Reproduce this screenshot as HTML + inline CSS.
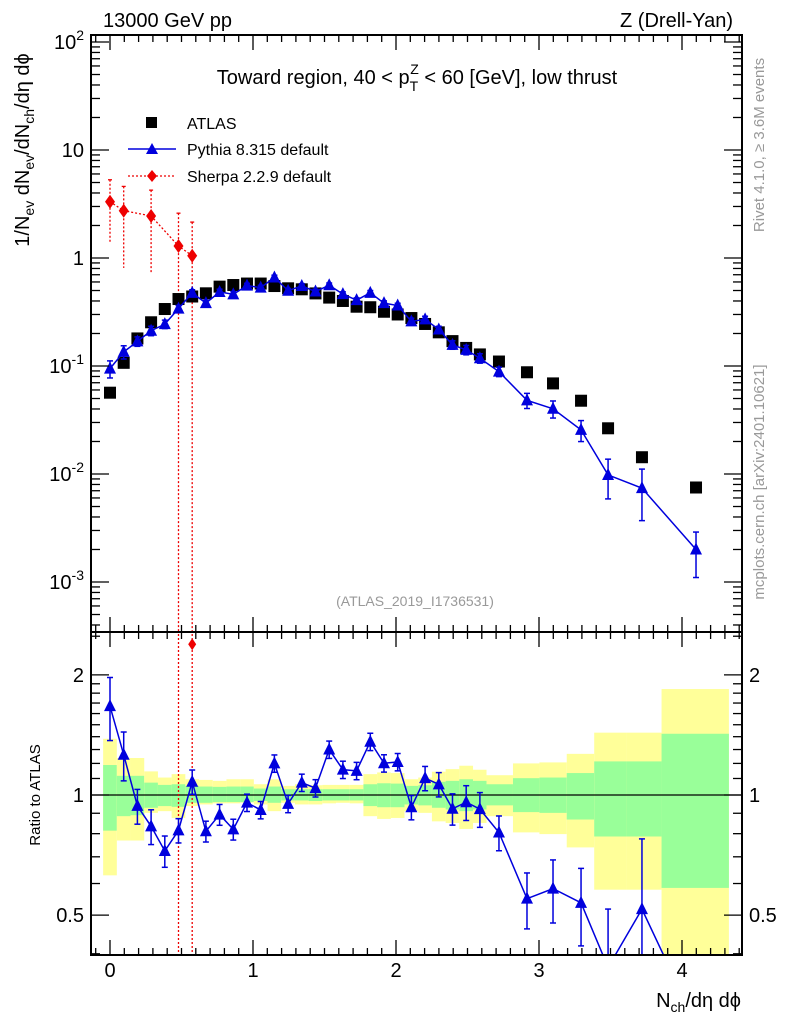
<!DOCTYPE html>
<html style="margin:0;width:786px;height:1024px;overflow:hidden"><head><meta charset="utf-8"><style>
html,body{margin:0;padding:0;background:#fff;width:786px;height:1024px;overflow:hidden;}
svg{display:block;font-family:"Liberation Sans",sans-serif;}
</style></head><body>
<svg id="c" width="786" height="1024" xmlns="http://www.w3.org/2000/svg">
<rect width="786" height="1024" fill="#fff"/>
<g id="bands"></g><g id="grid"></g><g id="marks"></g><g id="axes"></g>
<text x="103" y="27" font-size="20">13000 GeV pp</text>
<text x="733" y="27" font-size="20" text-anchor="end">Z (Drell-Yan)</text>
<text x="417" y="84" font-size="20" text-anchor="middle">Toward region, 40 &lt; p<tspan font-size="14" dy="7">T</tspan><tspan font-size="14" dx="-8" dy="-17">Z</tspan><tspan dy="10"> &lt; 60 [GeV], low thrust</tspan></text>
<text x="415" y="606" font-size="14" fill="#999" text-anchor="middle">(ATLAS_2019_I1736531)</text>
<text transform="translate(764,145) rotate(-90)" font-size="15" fill="#999" text-anchor="middle">Rivet 4.1.0, ≥ 3.6M events</text>
<text transform="translate(764,482) rotate(-90)" font-size="15" fill="#999" text-anchor="middle">mcplots.cern.ch [arXiv:2401.10621]</text>
<text transform="translate(29,150) rotate(-90)" font-size="20" text-anchor="middle">1/N<tspan font-size="14" dy="5">ev</tspan><tspan dy="-5"> dN</tspan><tspan font-size="14" dy="5">ev</tspan><tspan dy="-5">/dN</tspan><tspan font-size="14" dy="5">ch</tspan><tspan dy="-5">/dη dϕ</tspan></text>
<text transform="translate(40,795) rotate(-90)" font-size="15" text-anchor="middle">Ratio to ATLAS</text>
<text x="741" y="1007" font-size="20" text-anchor="end">N<tspan font-size="14" dy="5">ch</tspan><tspan dy="-5">/dη dϕ</tspan></text>
<g>
<rect x="146" y="117" width="11" height="11" fill="#000"/>
<text x="187" y="129" font-size="16">ATLAS</text>
<line x1="128" y1="149" x2="176" y2="149" stroke="#0000dd" stroke-width="1.5"/>
<polygon points="152,143 146,154 158,154" fill="#0000dd"/>
<text x="187" y="155" font-size="16">Pythia 8.315 default</text>
<line x1="128" y1="176" x2="176" y2="176" stroke="#ee0000" stroke-width="1.3" stroke-dasharray="2,2"/>
<polygon points="152,170 157,176 152,182 147,176" fill="#ee0000"/>
<text x="187" y="182" font-size="16">Sherpa 2.2.9 default</text>
</g>
</svg>
<script>
const xs=[0,0.0958,0.1916,0.2874,0.3832,0.479,0.5748,0.6706,0.7664,0.8622,0.958,1.0538,1.1496,1.2454,1.3412,1.437,1.5328,1.6286,1.7244,1.8202,1.916,2.0118,2.1076,2.2034,2.2992,2.395,2.4908,2.5866,2.72,2.916,3.098,3.294,3.483,3.72,4.098];
const atlas=[0.0566,0.107,0.180,0.254,0.337,0.417,0.44,0.471,0.543,0.562,0.58,0.58,0.55,0.524,0.513,0.47,0.43,0.40,0.354,0.35,0.318,0.30,0.278,0.245,0.205,0.170,0.147,0.128,0.110,0.0875,0.069,0.0477,0.0265,0.0143,0.0075];
const pythia=[0.0945,0.135,0.169,0.212,0.244,0.340,0.475,0.382,0.485,0.461,0.555,0.532,0.66,0.498,0.551,0.489,0.559,0.463,0.407,0.476,0.382,0.363,0.259,0.270,0.218,0.157,0.141,0.118,0.0886,0.0481,0.0402,0.0256,0.0098,0.0074,0.0020];
const pythiaErr=[0.18,0.14,0.1,0.1,0.09,0.07,0.07,0.06,0.06,0.06,0.05,0.05,0.05,0.05,0.05,0.05,0.05,0.05,0.05,0.05,0.05,0.05,0.07,0.07,0.07,0.09,0.1,0.1,0.1,0.16,0.18,0.22,0.4,0.5,0.45];
const sherpaIdx=[0,1,3,5,6];
const sherpa=[3.32,2.74,2.45,1.29,1.05];
const sherpaUp=[5.3,4.6,4.25,2.6,2.15];
const sherpaDn=[1.41,0.81,0.71,0.0001,0.0001];
const bandEdges=[-0.048,0.0478,0.1436,0.2394,0.3352,0.431,0.5268,0.6226,0.7184,0.8142,0.91,1.0058,1.1016,1.1974,1.2932,1.389,1.4848,1.5806,1.6764,1.7722,1.868,1.9638,2.0596,2.1554,2.2512,2.347,2.4428,2.5386,2.633,2.818,3.003,3.194,3.386,3.615,3.857,4.328];
const yelHi=[1.383,1.238,1.238,1.146,1.106,1.128,1.095,1.091,1.085,1.095,1.095,1.064,1.095,1.054,1.064,1.058,1.06,1.06,1.06,1.128,1.139,1.135,1.095,1.106,1.144,1.161,1.184,1.157,1.121,1.2,1.207,1.268,1.433,1.433,1.843];
const yelLo=[0.629,0.769,0.769,0.902,0.911,0.876,0.938,0.947,0.953,0.953,0.957,0.947,0.911,0.956,0.947,0.947,0.953,0.956,0.953,0.885,0.871,0.876,0.911,0.902,0.859,0.851,0.822,0.851,0.885,0.806,0.798,0.739,0.579,0.579,0.3];
const grnHi=[1.189,1.117,1.117,1.074,1.06,1.064,1.054,1.05,1.048,1.05,1.05,1.038,1.05,1.034,1.034,1.034,1.034,1.034,1.034,1.064,1.07,1.068,1.054,1.058,1.079,1.085,1.095,1.085,1.064,1.102,1.106,1.135,1.214,1.214,1.424];
const grnLo=[0.814,0.885,0.89,0.929,0.938,0.934,0.956,0.956,0.96,0.96,0.96,0.966,0.956,0.969,0.969,0.966,0.969,0.969,0.969,0.938,0.932,0.932,0.947,0.942,0.929,0.92,0.911,0.92,0.942,0.906,0.902,0.868,0.787,0.787,0.585];
const yTicks=["10^-3","10^-2","10^-1","1","10","10^2"];
const ratioTicks=[0.5,1,2];
const xTicks=[0,1,2,3,4];

const NS="http://www.w3.org/2000/svg";
const L=91,R=742,T=35,MB=632,RB=955;
const X=v=>110+v*143;
const cl=(y,a,b)=>Math.max(a,Math.min(b,y));
const Y=v=>cl(258-108*Math.log10(v),T-20,MB+2);
const RY=v=>cl(795-399*Math.log10(v),MB-2,RB+2);
function mk(p,tag,at){const e=document.createElementNS(NS,tag);for(const k in at)e.setAttribute(k,at[k]);p.appendChild(e);return e;}
const bands=document.getElementById('bands'),marks=document.getElementById('marks'),axes=document.getElementById('axes');
function clipR(v){return Math.max(Math.min(RY(v),RB),MB);}
for(let i=0;i<yelHi.length;i++){
 const x1=X(bandEdges[i]),x2=Math.min(X(bandEdges[i+1]),R);
 let e=mk(bands,'rect',{x:x1,y:clipR(yelHi[i]),width:x2-x1,height:clipR(yelLo[i])-clipR(yelHi[i]),fill:'#ffff99'});
 
 
 e=mk(bands,'rect',{x:x1,y:clipR(grnHi[i]),width:x2-x1,height:clipR(grnLo[i])-clipR(grnHi[i]),fill:'#99ff99'});
 
 
}
mk(bands,'line',{x1:L,x2:R,y1:RY(1),y2:RY(1),stroke:'#000','stroke-width':1.3});
const defs=mk(document.getElementById('c'),'defs',{});
const c1=mk(defs,'clipPath',{id:'cm'});mk(c1,'rect',{x:L,y:T,width:R-L,height:MB-T});
const c2=mk(defs,'clipPath',{id:'cr'});mk(c2,'rect',{x:L,y:MB,width:R-L,height:RB-MB});
const gm=mk(marks,'g',{'clip-path':'url(#cm)'}),gr=mk(marks,'g',{'clip-path':'url(#cr)'});
let sp='';
sherpaIdx.forEach((k,j)=>{const x=X(xs[k]);sp+=(j?'L':'M')+x+','+Y(sherpa[j]);
 mk(gm,'line',{x1:x,x2:x,y1:Y(sherpaUp[j]),y2:Y(sherpaDn[j]),stroke:'#ee0000','stroke-width':1.3,'stroke-dasharray':'2,2'});
 mk(gm,'line',{x1:x-2,x2:x+2,y1:Y(sherpaUp[j]),y2:Y(sherpaUp[j]),stroke:'#ee0000','stroke-width':1.3});
 const rr=sherpa[j]/atlas[k];
 mk(gr,'line',{x1:x,x2:x,y1:RY(sherpaUp[j]/atlas[k]),y2:RY(sherpaDn[j]/atlas[k]),stroke:'#ee0000','stroke-width':1.3,'stroke-dasharray':'2,2'});
 const ry=RY(rr);
 if(ry>MB && ry<RB){
 let d=mk(gr,'polygon',{points:`${x},${ry-6} ${x+4},${ry} ${x},${ry+6} ${x-4},${ry}`,fill:'#ee0000'});
 
 
 }
});
mk(gm,'path',{d:sp,fill:'none',stroke:'#ee0000','stroke-width':1.3,'stroke-dasharray':'2,2'});
sherpaIdx.forEach((k,j)=>{const x=X(xs[k]),y=Y(sherpa[j]);
 const d=mk(gm,'polygon',{points:`${x},${y-7} ${x+5},${y} ${x},${y+7} ${x-5},${y}`,fill:'#ee0000'});
 
 
});
xs.forEach((v,i)=>{const s=mk(gm,'rect',{x:X(v)-6,y:Y(atlas[i])-6,width:12,height:12,fill:'#000'});
 
 });
let pm='',pr='';
const RYu=v=>795-399*Math.log10(v);
xs.forEach((v,i)=>{const x=X(v),y=Y(pythia[i]),r=pythia[i]/atlas[i];
 pm+=(i?'L':'M')+x+','+y;
 pr+=(i?'L':'M')+x+','+cl(RYu(r),MB-200,RB+200);
 const e=pythiaErr[i];
 [[gm,Y(pythia[i]*(1+e)),Y(Math.max(pythia[i]*(1-e),1e-6))],[gr,RY(r*(1+e)),RY(Math.max(r*(1-e),1e-6))]].forEach(([g,a,b])=>{
  if(a===b)return;
  mk(g,'line',{x1:x,x2:x,y1:a,y2:b,stroke:'#0000dd','stroke-width':1.5});
  mk(g,'line',{x1:x-3,x2:x+3,y1:a,y2:a,stroke:'#0000dd','stroke-width':1.5});
  mk(g,'line',{x1:x-3,x2:x+3,y1:b,y2:b,stroke:'#0000dd','stroke-width':1.5});
 });
});
mk(gm,'path',{d:pm,fill:'none',stroke:'#0000dd','stroke-width':1.5});
mk(gr,'path',{d:pr,fill:'none',stroke:'#0000dd','stroke-width':1.5});
xs.forEach((v,i)=>{const x=X(v);
 [[gm,Y(pythia[i])],[gr,RYu(pythia[i]/atlas[i])]].forEach(([g,y])=>{
  if(g===gr && (y<MB-8 || y>RB+8))return;
  const t=mk(g,'polygon',{points:`${x},${y-7} ${x-6},${y+5} ${x+6},${y+5}`,fill:'#0000dd'});
  
  
 });
});
mk(axes,'rect',{x:L,y:T,width:R-L,height:MB-T,fill:'none',stroke:'#000','stroke-width':2});
mk(axes,'rect',{x:L,y:MB,width:R-L,height:RB-MB,fill:'none',stroke:'#000','stroke-width':2});
for(let t=-0.1;t<=4.41;t+=0.1){const x=X(t);if(x<L||x>R)continue;
 const maj=Math.abs(t-Math.round(t))<0.01,len=maj?15:7;
 [T,MB].forEach(y=>mk(axes,'line',{x1:x,x2:x,y1:y,y2:y+len,stroke:'#000','stroke-width':1.3}));
 [MB,RB].forEach(y=>mk(axes,'line',{x1:x,x2:x,y1:y,y2:y-len,stroke:'#000','stroke-width':1.3}));}
xTicks.forEach(t=>{const e=mk(axes,'text',{x:X(t),y:977,'font-size':20,'text-anchor':'middle'});e.textContent=t;
 
 });
for(let d=-4;d<=2;d++)for(let m=1;m<10;m++){const v=m*Math.pow(10,d);const y=258-108*Math.log10(v);if(y<T||y>MB)continue;
 const len=m==1?18:9;
 mk(axes,'line',{x1:L,x2:L+len,y1:y,y2:y,stroke:'#000','stroke-width':1.3});
 mk(axes,'line',{x1:R,x2:R-len,y1:y,y2:y,stroke:'#000','stroke-width':1.3});}
yTicks.forEach((s,i)=>{const y=258-108*(i-3)+7;const e=mk(axes,'text',{x:84,y:y,'font-size':20,'text-anchor':'end'});
 const p=s.split('^');e.textContent=p[0];if(p[1]){const ts=mk(e,'tspan',{dy:-9,'font-size':14});ts.textContent=p[1];}
 
 });
[0.4,0.5,0.6,0.7,0.8,0.9,1,1.1,1.2,1.3,1.4,1.5,1.6,1.7,1.8,1.9,2,2.5].forEach(v=>{const y=RYu(v);if(y<MB||y>RB)return;
 const len=[0.5,1,2].includes(v)?18:9;
 mk(axes,'line',{x1:L,x2:L+len,y1:y,y2:y,stroke:'#000','stroke-width':1.3});
 mk(axes,'line',{x1:R,x2:R-len,y1:y,y2:y,stroke:'#000','stroke-width':1.3});});
ratioTicks.forEach(v=>{const y=RYu(v)+7;
 let e=mk(axes,'text',{x:84,y:y,'font-size':20,'text-anchor':'end'});e.textContent=v;
 
 
 e=mk(axes,'text',{x:749,y:y,'font-size':20});e.textContent=v;
 
 });
</script>
</body></html>
